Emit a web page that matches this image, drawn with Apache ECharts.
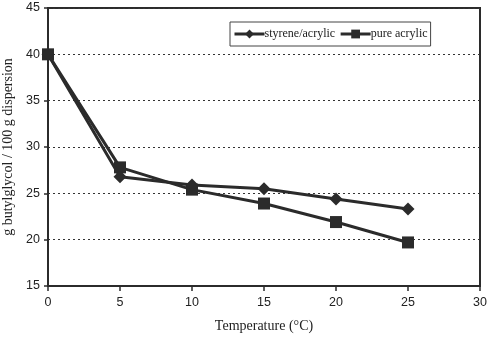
<!DOCTYPE html>
<html><head><meta charset="utf-8">
<script src="https://cdn.jsdelivr.net/npm/echarts@6/dist/echarts.min.js"></script>
<style>html,body{margin:0;padding:0;background:#fff}#c{width:492px;height:339px}</style>
</head><body><div id="c"></div>
<script>
const temperatures = [0, 5, 10, 15, 20, 25];
const styreneAcrylic = [40, 26.8, 25.9, 25.5, 24.4, 23.3];
const pureAcrylic = [40, 27.8, 25.4, 23.9, 21.9, 19.7];
const seriesNames = ['styrene/acrylic', 'pure acrylic'];

const chart = echarts.init(document.getElementById('c'));
const dark = '#2b2b2b';
chart.setOption({
  backgroundColor: '#fff',
  animation: false,
  grid: {left: 48, right: 12, top: 8, bottom: 53, outerBoundsMode: 'none', containLabel: false,
         show: true, borderColor: dark, borderWidth: 2, backgroundColor: 'transparent'},
  legend: {
    data: seriesNames, left: 230, top: 22, orient: 'horizontal',
    borderColor: '#444', borderWidth: 1, padding: [6, 3], itemGap: 4,
    itemWidth: 30, itemHeight: 11,
    lineStyle: {width: 3},
    textStyle: {fontFamily: 'Liberation Serif', fontSize: 12, color: '#222', padding: [0, 0, 0, -5]}
  },
  xAxis: {
    type: 'value', min: 0, max: 30, interval: 5,
    name: 'Temperature (°C)', nameLocation: 'middle', nameGap: 33,
    nameTextStyle: {fontFamily: 'Liberation Serif', fontSize: 14, color: '#222'},
    axisLine: {lineStyle: {color: dark, width: 2}},
    axisTick: {show: true, length: 5, lineStyle: {color: dark, width: 1.5}},
    axisLabel: {fontFamily: 'Liberation Sans', fontSize: 12.5, color: '#222', margin: 10},
    splitLine: {show: false}
  },
  yAxis: {
    type: 'value', min: 15, max: 45, interval: 5,
    name: 'g butylglycol / 100 g dispersion', nameLocation: 'middle', nameGap: 27,
    nameTextStyle: {fontFamily: 'Liberation Serif', fontSize: 14, color: '#222'},
    axisLine: {lineStyle: {color: dark, width: 2}},
    axisTick: {show: true, length: 4, lineStyle: {color: dark, width: 1.5}},
    axisLabel: {fontFamily: 'Liberation Sans', fontSize: 12.5, color: '#222', margin: 8},
    splitLine: {show: true, lineStyle: {color: '#333', type: [2, 3], width: 1}}
  },
  series: [
    {name: seriesNames[0], type: 'line', data: temperatures.map((t, i) => [t, styreneAcrylic[i]]),
     symbol: 'diamond', symbolSize: 13, itemStyle: {color: dark}, lineStyle: {color: dark, width: 3}, z: 3},
    {name: seriesNames[1], type: 'line', data: temperatures.map((t, i) => [t, pureAcrylic[i]]),
     symbol: 'rect', symbolSize: 12, itemStyle: {color: dark}, lineStyle: {color: dark, width: 3}, z: 2}
  ]
});
</script></body></html>
